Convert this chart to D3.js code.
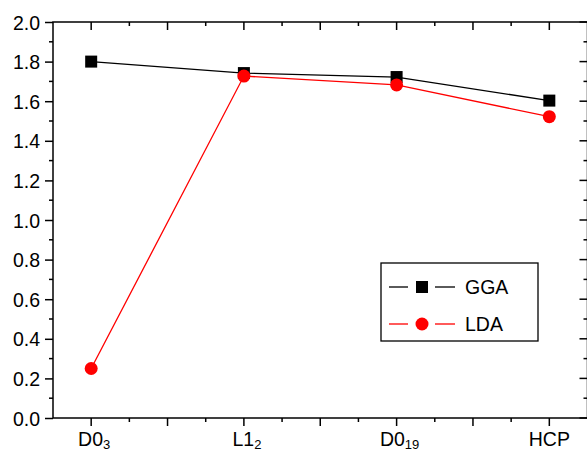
<!DOCTYPE html>
<html>
<head>
<meta charset="utf-8">
<script src="https://cdn.jsdelivr.net/npm/d3@7"></script>
<style>
  body { margin: 0; background: #fff; }
  text { font-family: "Liberation Sans", Arial, sans-serif; fill: #000; }
</style>
</head>
<body>
<div id="chart"></div>
<script>
const categories = ['D0|3', 'L1|2', 'D0|19', 'HCP'];
const gga = [1.80, 1.742, 1.722, 1.603];
const lda = [0.25, 1.727, 1.682, 1.522];
const yTicks = [0, 0.2, 0.4, 0.6, 0.8, 1.0, 1.2, 1.4, 1.6, 1.8, 2.0];
const seriesNames = ['GGA', 'LDA'];

const W = 587, H = 452;
const plot = { left: 53, right: 587.5, top: 22, bottom: 418 };

const svg = d3.select("#chart")
  .append("svg")
  .attr("width", W)
  .attr("height", H);

const x = d3.scaleLinear()
  .domain([0.75, 4.25])
  .range([plot.left, plot.right]);

const y = d3.scaleLinear()
  .domain([0, 2])
  .range([plot.bottom, plot.top]);

const xMinor = d3.range(1, 17).map(i => 0.75 + i * 0.25).filter(v => v < 4.25);
const yMinor = d3.range(1, 20).map(i => i * 0.1).filter(v => Math.round(v * 10) % 2 === 1);

// plot frame
svg.append("rect")
  .attr("x", plot.left).attr("y", plot.top)
  .attr("width", plot.right - plot.left).attr("height", plot.bottom - plot.top)
  .attr("fill", "none").attr("stroke", "#000").attr("stroke-width", 1.5);

// left ticks (outward) and labels
const yAxisLeft = d3.axisLeft(y).tickValues(yTicks).tickSize(8).tickPadding(5)
  .tickFormat(d3.format(".1f"));
const gl = svg.append("g").attr("transform", `translate(${plot.left},0)`).call(yAxisLeft);
gl.select(".domain").remove();
gl.selectAll("line").attr("stroke-width", 1.5);
gl.selectAll("text").style("font-size", "19.5px").attr("dy", "0.36em");

const tickStyle = sel => sel.attr("stroke", "#000").attr("stroke-width", 1.5);

// minor ticks left (outward) + right (inward)
svg.append("g").selectAll("line").data(yMinor)
  .join("line").attr("x1", plot.left - 4).attr("x2", plot.left).attr("y1", d => y(d)).attr("y2", d => y(d)).call(tickStyle);
svg.append("g").selectAll("line").data(yMinor)
  .join("line").attr("x1", plot.right - 4).attr("x2", plot.right).attr("y1", d => y(d)).attr("y2", d => y(d)).call(tickStyle);
svg.append("g").selectAll("line").data(yTicks)
  .join("line").attr("x1", plot.right - 8).attr("x2", plot.right).attr("y1", d => y(d)).attr("y2", d => y(d)).call(tickStyle);

// x ticks: bottom outward, top inward
const tickLen = v => (Math.abs(v * 2 - Math.round(v * 2)) < 1e-6 ? 8 : 4);
svg.append("g").selectAll("line").data(xMinor)
  .join("line").attr("x1", d => x(d)).attr("x2", d => x(d))
  .attr("y1", plot.bottom).attr("y2", d => plot.bottom + tickLen(d)).call(tickStyle);
svg.append("g").selectAll("line").data(xMinor)
  .join("line").attr("x1", d => x(d)).attr("x2", d => x(d))
  .attr("y1", plot.top).attr("y2", d => plot.top + tickLen(d)).call(tickStyle);

// category labels with subscripts
categories.forEach((c, i) => {
  const [main, sub] = c.split('|');
  const t = svg.append("text")
    .attr("x", x(i + 1) + (sub ? 3 : 0)).attr("y", 446)
    .attr("text-anchor", "middle")
    .style("font-size", "19.5px");
  t.append("tspan").text(main);
  if (sub) {
    t.append("tspan").attr("dy", 3).style("font-size", "13px").text(sub);
  }
});

const line = d3.line().x((d, i) => x(i + 1)).y(d => y(d));

// GGA
svg.append("path").datum(gga).attr("d", line)
  .attr("fill", "none").attr("stroke", "#000").attr("stroke-width", 1.3);
svg.append("g").selectAll("rect").data(gga).join("rect")
  .attr("x", (d, i) => x(i + 1) - 6).attr("y", d => y(d) - 6)
  .attr("width", 12).attr("height", 12).attr("fill", "#000");

// LDA
svg.append("path").datum(lda).attr("d", line)
  .attr("fill", "none").attr("stroke", "#ff0000").attr("stroke-width", 1.3);
svg.append("g").selectAll("circle").data(lda).join("circle")
  .attr("cx", (d, i) => x(i + 1)).attr("cy", d => y(d))
  .attr("r", 6.5).attr("fill", "#ff0000");

// legend
const lg = svg.append("g");
lg.append("rect").attr("x", 381).attr("y", 263).attr("width", 157).attr("height", 78)
  .attr("fill", "#fff").attr("stroke", "#000").attr("stroke-width", 1.3);
const rows = [
  { name: seriesNames[0], color: "#000", cy: 287, shape: "square" },
  { name: seriesNames[1], color: "#ff0000", cy: 324, shape: "circle" }
];
rows.forEach(r => {
  lg.append("line").attr("x1", 389).attr("x2", 408).attr("y1", r.cy).attr("y2", r.cy)
    .attr("stroke", r.color).attr("stroke-width", 1.3);
  lg.append("line").attr("x1", 435).attr("x2", 455).attr("y1", r.cy).attr("y2", r.cy)
    .attr("stroke", r.color).attr("stroke-width", 1.3);
  if (r.shape === "square") {
    lg.append("rect").attr("x", 416).attr("y", r.cy - 6).attr("width", 12).attr("height", 12).attr("fill", r.color);
  } else {
    lg.append("circle").attr("cx", 422).attr("cy", r.cy).attr("r", 6.5).attr("fill", r.color);
  }
  lg.append("text").attr("x", 465).attr("y", r.cy).attr("dy", "0.36em")
    .style("font-size", "19.5px").text(r.name);
});
</script>
</body>
</html>
